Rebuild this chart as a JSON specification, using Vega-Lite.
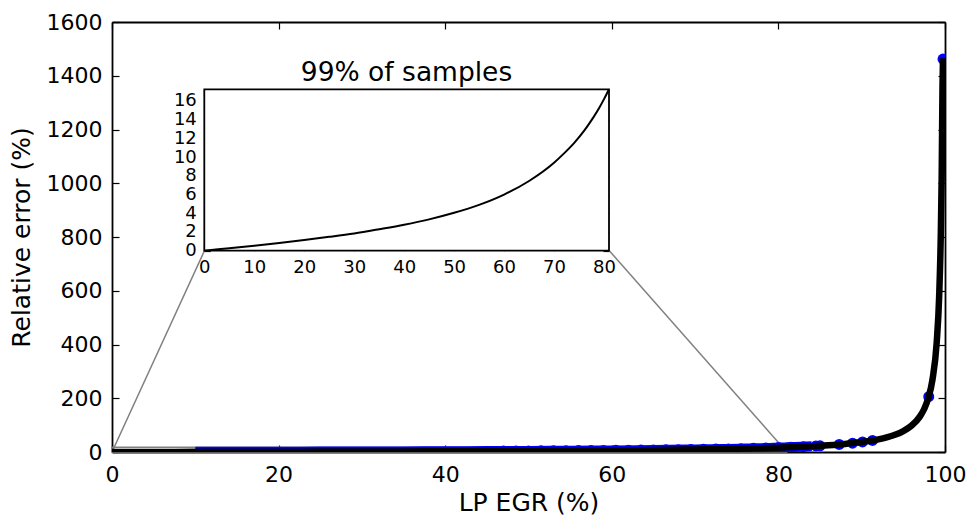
{
  "$schema": "https://vega.github.io/schema/vega-lite/v6.json",
  "width": 833,
  "height": 430,
  "autosize": {"type": "none"},
  "padding": {"left": 112, "top": 22, "right": 23, "bottom": 65},
  "background": "white",
  "title": {"text": "99% of samples", "fontSize": 26.5, "font": "DejaVu Sans", "fontWeight": "normal", "color": "black", "anchor": "middle", "frame": "group", "baseline": "alphabetic", "offset": 0, "dx": -122, "dy": 96},
  "config": {
    "view": {"stroke": null},
    "font": "DejaVu Sans",
    "axis": {"grid": false, "domainColor": "black", "domainWidth": 1.8, "tickColor": "black", "tickWidth": 1.2, "tickOpacity": 1, "labelColor": "black", "labelFont": "DejaVu Sans", "titleFont": "DejaVu Sans", "titleFontWeight": "normal", "titleColor": "black", "labelFlush": false, "labelOverlap": false, "labelBound": false, "zindex": 1, "format": "d"}
  },
  "datasets": {
    "curve": [
      {"x": 0, "y": 0}, {"x": 5, "y": 0.27}, {"x": 10, "y": 0.54}, {"x": 15, "y": 0.83}, {"x": 20, "y": 1.14},
      {"x": 25, "y": 1.48}, {"x": 30, "y": 1.85}, {"x": 35, "y": 2.3}, {"x": 40, "y": 2.78}, {"x": 45, "y": 3.35},
      {"x": 50, "y": 4.05}, {"x": 55, "y": 4.9}, {"x": 60, "y": 6.0}, {"x": 65, "y": 7.45}, {"x": 70, "y": 9.4},
      {"x": 72, "y": 10.4}, {"x": 74, "y": 11.5}, {"x": 76, "y": 12.8}, {"x": 77, "y": 13.56}, {"x": 78, "y": 14.36},
      {"x": 79, "y": 15.23}, {"x": 80, "y": 16.2}, {"x": 80.5, "y": 16.72}, {"x": 81, "y": 17.25},
      {"x": 82, "y": 18.7}, {"x": 84, "y": 21.5}, {"x": 86, "y": 25.2}, {"x": 88, "y": 30.1},
      {"x": 90, "y": 36.9}, {"x": 92, "y": 47.2}, {"x": 93, "y": 54.5}, {"x": 94, "y": 64.2}, {"x": 95, "y": 77.9},
      {"x": 96, "y": 98.4}, {"x": 97, "y": 132.6}, {"x": 97.5, "y": 160}, {"x": 98, "y": 201}, {"x": 98.5, "y": 270},
      {"x": 99, "y": 406}, {"x": 99.3, "y": 580}, {"x": 99.5, "y": 816}, {"x": 99.6, "y": 1020}, {"x": 99.7, "y": 1362},
      {"x": 99.76, "y": 1465}
    ],
    "blue": [
      {"x": 47, "y": 3.64}, {"x": 48.5, "y": 3.86}, {"x": 50, "y": 4.1}, {"x": 51.5, "y": 4.35}, {"x": 53, "y": 4.62},
      {"x": 54.5, "y": 4.91}, {"x": 56, "y": 5.22}, {"x": 57.5, "y": 5.55}, {"x": 59, "y": 5.9}, {"x": 60.5, "y": 6.28},
      {"x": 62, "y": 6.69}, {"x": 63.5, "y": 7.13}, {"x": 65, "y": 7.61}, {"x": 66.5, "y": 8.14}, {"x": 68, "y": 8.71},
      {"x": 69.5, "y": 9.34}, {"x": 71, "y": 10.04}, {"x": 72.5, "y": 10.81}, {"x": 74, "y": 11.67}, {"x": 75.5, "y": 12.63},
      {"x": 77, "y": 13.73}, {"x": 78.5, "y": 14.97}, {"x": 80, "y": 16.4}, {"x": 81.5, "y": 18.06}, {"x": 83, "y": 20.02},
      {"x": 84.5, "y": 22.35}, {"x": 85, "y": 23.2}, {"x": 87.3, "y": 28.2}, {"x": 88.9, "y": 32.8}, {"x": 90.1, "y": 37.3},
      {"x": 91.3, "y": 43.0}, {"x": 98.05, "y": 206}, {"x": 99.76, "y": 1462}
    ],
    "box": [{"x0": 0, "x1": 81, "y0": 0, "y1": 17.25}],
    "connectors": [
      {"xa": 0, "ya": 0, "xb": 11.1, "yb": 749},
      {"xa": 81, "ya": 0, "xb": 59.7, "yb": 749}
    ]
  },
  "layer": [
    {
      "data": {"name": "box"},
      "mark": {"type": "rect", "fillOpacity": 0, "stroke": "#808080", "strokeWidth": 1.5},
      "encoding": {
        "x": {"field": "x0", "type": "quantitative", "scale": {"domain": [0, 100], "nice": false, "zero": false},
              "axis": {"orient": "bottom", "values": [0, 20, 40, 60, 80, 100], "title": "LP EGR (%)", "ticks": false, "labelPadding": 12, "labelFontSize": 22, "titleFontSize": 25, "titlePadding": 5}},
        "x2": {"field": "x1"},
        "y": {"field": "y0", "type": "quantitative", "scale": {"domain": [0, 1600], "nice": false, "zero": false},
              "axis": {"orient": "left", "values": [0, 200, 400, 600, 800, 1000, 1200, 1400, 1600], "title": "Relative error (%)", "ticks": false, "labelPadding": 10, "labelFontSize": 22, "titleFontSize": 25, "titlePadding": 12}},
        "y2": {"field": "y1"}
      }
    },
    {
      "data": {"name": "connectors"},
      "mark": {"type": "rule", "stroke": "#808080", "strokeWidth": 1.5},
      "encoding": {
        "x": {"field": "xa", "type": "quantitative", "scale": {"domain": [0, 100], "nice": false, "zero": false},
              "axis": {"orient": "top", "offset": -430, "values": [0, 20, 40, 60, 80, 100], "title": null, "labels": false, "domain": false, "ticks": true, "tickSize": 7}},
        "x2": {"field": "xb"},
        "y": {"field": "ya", "type": "quantitative", "scale": {"domain": [0, 1600], "nice": false, "zero": false},
              "axis": {"orient": "right", "offset": -833, "values": [0, 200, 400, 600, 800, 1000, 1200, 1400, 1600], "title": null, "labels": false, "domain": false, "ticks": true, "tickSize": 7}},
        "y2": {"field": "yb"}
      }
    },
    {
      "data": {"name": "curve"},
      "transform": [{"filter": "datum.x >= 10 && datum.x <= 85"}],
      "mark": {"type": "line", "color": "#0000ff", "strokeWidth": 10, "interpolate": "monotone", "clip": true},
      "encoding": {
        "x": {"field": "x", "type": "quantitative", "scale": {"domain": [0, 100], "nice": false, "zero": false},
              "axis": {"orient": "bottom", "offset": -430, "values": [0, 20, 40, 60, 80, 100], "title": null, "labels": false, "domain": true, "ticks": true, "tickSize": 7}},
        "y": {"field": "y", "type": "quantitative", "scale": {"domain": [0, 1600], "nice": false, "zero": false},
              "axis": {"orient": "left", "offset": -833, "values": [0, 200, 400, 600, 800, 1000, 1200, 1400, 1600], "title": null, "labels": false, "domain": true, "ticks": true, "tickSize": 7}}
      }
    },
    {
      "data": {"name": "blue"},
      "mark": {"type": "circle", "color": "#0000ff", "size": 120, "opacity": 1, "clip": true},
      "encoding": {
        "x": {"field": "x", "type": "quantitative", "scale": {"domain": [0, 100], "nice": false, "zero": false}, "axis": null},
        "y": {"field": "y", "type": "quantitative", "scale": {"domain": [0, 1600], "nice": false, "zero": false}, "axis": null}
      }
    },
    {
      "data": {"name": "curve"},
      "mark": {"type": "line", "color": "black", "strokeWidth": 6.5, "interpolate": "monotone", "clip": true},
      "encoding": {
        "x": {"field": "x", "type": "quantitative", "scale": {"domain": [0, 100], "nice": false, "zero": false}, "axis": null},
        "y": {"field": "y", "type": "quantitative", "scale": {"domain": [0, 1600], "nice": false, "zero": false}, "axis": null}
      }
    },
    {
      "data": {"name": "box"},
      "mark": {"type": "rect", "fill": "white", "stroke": null},
      "encoding": {
        "x": {"field": "x0", "type": "quantitative", "scale": {"domain": [0, 81], "range": [92.3, 497], "nice": false, "zero": false},
              "axis": {"orient": "bottom", "offset": -201.3, "values": [0, 10, 20, 30, 40, 50, 60, 70, 80], "title": null, "ticks": false, "domain": false, "labelPadding": 8, "labelFontSize": 18}},
        "x2": {"field": "x1"},
        "y": {"field": "y0", "type": "quantitative", "scale": {"domain": [0, 17.25], "range": [228.7, 67.3], "nice": false, "zero": false},
              "axis": {"orient": "left", "offset": -92.3, "values": [0, 2, 4, 6, 8, 10, 12, 14, 16], "title": null, "ticks": false, "domain": false, "labelPadding": 8, "labelFontSize": 18}},
        "y2": {"field": "y1"}
      }
    },
    {
      "data": {"name": "curve"},
      "transform": [{"filter": "datum.x <= 81"}],
      "mark": {"type": "line", "color": "black", "strokeWidth": 2, "interpolate": "monotone"},
      "encoding": {
        "x": {"field": "x", "type": "quantitative", "scale": {"domain": [0, 81], "range": [92.3, 497], "nice": false, "zero": false},
              "axis": {"orient": "top", "offset": -228.7, "values": [0, 10, 20, 30, 40, 50, 60, 70, 80], "title": null, "labels": false, "domain": false, "ticks": true, "tickSize": 6}},
        "y": {"field": "y", "type": "quantitative", "scale": {"domain": [0, 17.25], "range": [228.7, 67.3], "nice": false, "zero": false},
              "axis": {"orient": "right", "offset": -740.7, "values": [0, 2, 4, 6, 8, 10, 12, 14, 16], "title": null, "labels": false, "domain": false, "ticks": true, "tickSize": 6}}
      }
    },
    {
      "data": {"name": "box"},
      "mark": {"type": "rect", "fillOpacity": 0, "stroke": "black", "strokeWidth": 1.8},
      "encoding": {
        "x": {"field": "x0", "type": "quantitative", "scale": {"domain": [0, 81], "range": [92.3, 497], "nice": false, "zero": false},
              "axis": {"orient": "bottom", "offset": -362.7, "values": [0, 10, 20, 30, 40, 50, 60, 70, 80], "title": null, "labels": false, "domain": false, "ticks": true, "tickSize": 6}},
        "x2": {"field": "x1"},
        "y": {"field": "y0", "type": "quantitative", "scale": {"domain": [0, 17.25], "range": [228.7, 67.3], "nice": false, "zero": false},
              "axis": {"orient": "left", "offset": -497, "values": [0, 2, 4, 6, 8, 10, 12, 14, 16], "title": null, "labels": false, "domain": false, "ticks": true, "tickSize": 6}},
        "y2": {"field": "y1"}
      }
    }
  ],
  "resolve": {"scale": {"x": "independent", "y": "independent"}, "axis": {"x": "independent", "y": "independent"}}
}
